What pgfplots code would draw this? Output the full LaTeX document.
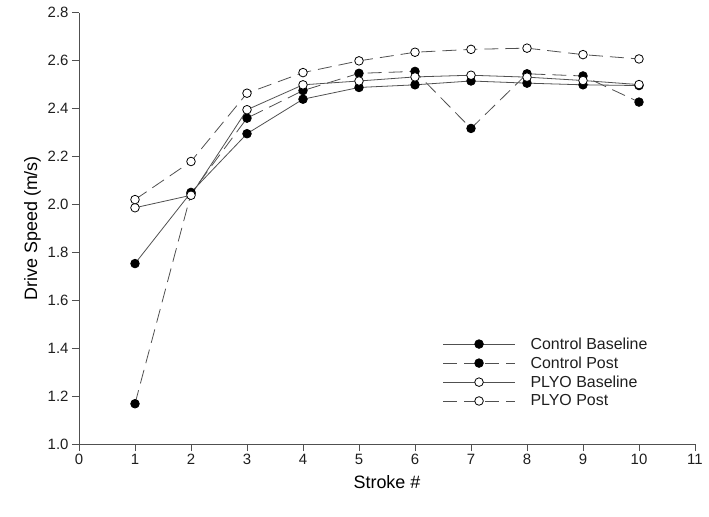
\documentclass[border=0pt]{standalone}
\usepackage{pgfplots}
\pgfplotsset{compat=1.18}
\usepackage{fontspec}
\setmainfont{Liberation Sans}
\definecolor{ln}{RGB}{80,80,80}
\definecolor{tx}{RGB}{30,30,30}
\begin{document}
\begin{tikzpicture}
\begin{axis}[
  name=ax,
  scale only axis, width=616bp, height=431.3bp,
  xmin=0, xmax=11, ymin=1.0, ymax=2.8,
  axis x line*=bottom, axis y line*=left,
  axis line style={ln, line width=1pt},
  xtick={0,...,11}, ytick={1.0,1.2,...,2.81},
  tick align=outside, major tick length=7bp,
  tick style={ln, line width=1pt},
  yticklabel style={/pgf/number format/fixed, /pgf/number format/fixed zerofill, /pgf/number format/precision=1},
  /pgf/number format/assume math mode=true,
  tick label style={font=\fontsize{15}{18}\selectfont, text=tx},
  xlabel={Stroke \#}, ylabel={Drive Speed (m/s)},
  label style={font=\fontsize{18}{21}\selectfont, text=black},
  xlabel style={yshift=-4bp},
  legend style={at={(0.59,0.166)}, anchor=west, draw=none, fill=none, inner sep=0pt,
    font=\fontsize{16}{18}\selectfont, text=tx, row sep=3bp,
    nodes={inner sep=1.5bp}},
  legend cell align=left,
  legend image code/.code={\draw[mark repeat=2,mark phase=2,#1] plot coordinates {(0bp,0bp)(36bp,0bp)(72bp,0bp)};\path[draw=none] (0bp,0bp) -- (86bp,0bp);},
  every axis plot/.append style={ln, line width=0.8pt},
  clip=false,
]
\addplot[mark=*, mark size=4.3bp, mark options={solid, fill=black, draw=black}] coordinates {
(1,1.753)(2,2.05)(3,2.295)(4,2.439)(5,2.488)(6,2.499)(7,2.515)(8,2.506)(9,2.499)(10,2.496)};
\addlegendentry{Control Baseline}
\addplot[dash pattern=on 14bp off 7bp, mark=*, mark size=4.3bp, mark options={solid, fill=black, draw=black}] coordinates {
(1,1.168)(2,2.045)(3,2.36)(4,2.475)(5,2.547)(6,2.555)(7,2.317)(8,2.545)(9,2.536)(10,2.427)};
\addlegendentry{Control Post}
\addplot[mark=*, mark size=4.3bp, mark options={solid, fill=white, draw=black}] coordinates {
(1,1.986)(2,2.038)(3,2.395)(4,2.499)(5,2.515)(6,2.532)(7,2.539)(8,2.531)(9,2.517)(10,2.50)};
\addlegendentry{PLYO Baseline}
\addplot[dash pattern=on 14bp off 7bp, mark=*, mark size=4.3bp, mark options={solid, fill=white, draw=black}] coordinates {
(1,2.02)(2,2.179)(3,2.464)(4,2.55)(5,2.599)(6,2.635)(7,2.647)(8,2.652)(9,2.625)(10,2.607)};
\addlegendentry{PLYO Post}
\end{axis}
\pgfresetboundingbox
\path[use as bounding box] ([shift={(-79bp,-73bp)}]ax.south west) rectangle ([shift={(14bp,12.7bp)}]ax.north east);
\end{tikzpicture}
\end{document}
